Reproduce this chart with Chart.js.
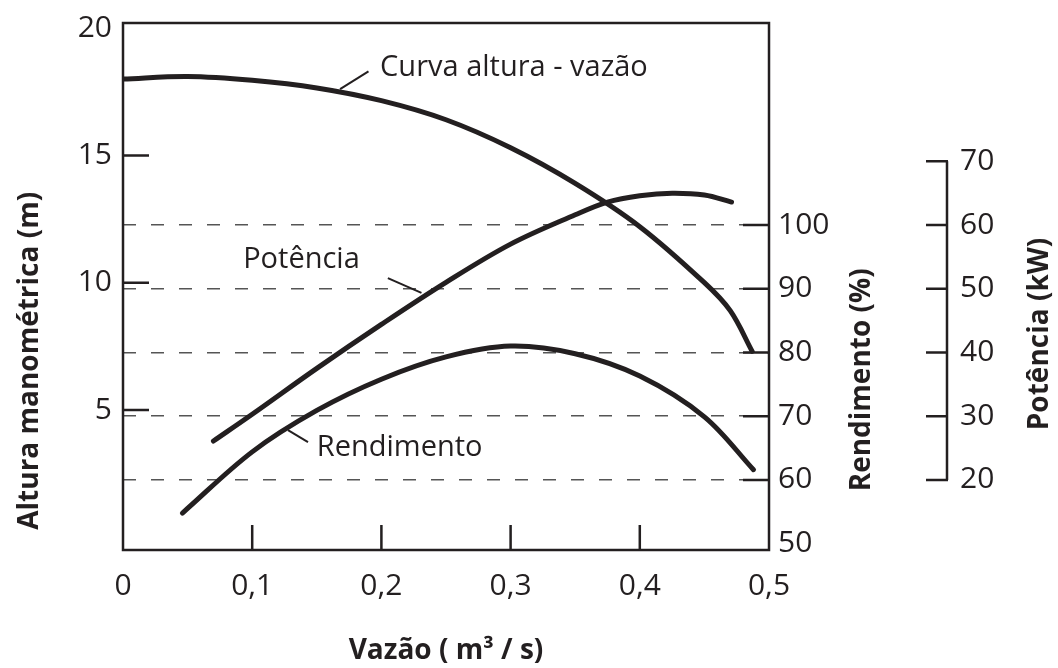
<!DOCTYPE html>
<html>
<head>
<meta charset="utf-8">
<script src="https://cdn.jsdelivr.net/npm/chart.js@4"></script>
<style>
html,body{margin:0;padding:0;background:#fff}
#wrap{width:1058px;height:668px}
</style>
</head>
<body>
<div id="wrap"><canvas id="myChart" width="1058" height="668"></canvas></div>
<script>
var INK = '#231f20'
var FONT = "'Open Sans', sans-serif"

// curva altura - vazão (eixo da esquerda, m)
var alturaVazao = [0, 0.05, 0.1, 0.15, 0.2, 0.25, 0.3, 0.35, 0.4, 0.45, 0.47, 0.487]
var altura = [18.0, 18.1, 17.95, 17.65, 17.15, 16.4, 15.3, 13.9, 12.2, 10.0, 8.9, 7.3]

// rendimento (%)
var rendVazao = [0.046, 0.1, 0.15, 0.2, 0.25, 0.3, 0.35, 0.4, 0.45, 0.488]
var rendimento = [54.8, 64.4, 70.9, 75.8, 79.3, 81.0, 79.8, 76.3, 69.9, 61.6]

// potência (kW)
var potVazao = [0.07, 0.1, 0.15, 0.2, 0.25, 0.3, 0.35, 0.375, 0.4, 0.425, 0.45, 0.471]
var potencia = [26.1, 30.3, 37.5, 44.4, 51.0, 57.0, 61.6, 63.6, 64.6, 65.0, 64.7, 63.6]

var xTicks = [0, 0.1, 0.2, 0.3, 0.4, 0.5]
var alturaTicks = [5, 10, 15, 20]
var rendTicks = [50, 60, 70, 80, 90, 100]
var potTicks = [20, 30, 40, 50, 60, 70]

function pts(xs, ys){
	var out = []
	for(var i=0;i<xs.length;i++){
		out.push({x: xs[i], y: ys[i]})
	}
	return out
}

function fixTicks(list){
	return function(scale){
		scale.ticks = list.map(function(v){ return {value: v} })
	}
}

function fitTo(prop, size){
	return function(s){
		s[prop] = size
		s.paddingTop = 0
		s.paddingBottom = 0
		s.paddingLeft = 0
		s.paddingRight = 0
	}
}

// rótulos sobre as curvas (em unidades dos eixos)
var notes = [
	{text: 'Curva altura - vazão', x: 0.199, y: 18.45, axis: 'y', line: [[0.168, 17.6], [0.19, 18.3]]},
	{text: 'Potência', x: 0.093, y: 10.9, axis: 'y', line: [[0.205, 10.18], [0.231, 9.6]]},
	{text: 'Rendimento', x: 0.150, y: 3.5, axis: 'y', line: [[0.1277, 4.21], [0.1432, 3.74]]}
]

var framePlugin = {
	id: 'frame',
	afterDraw: function(chart){
		var ctx = chart.ctx
		var ca = chart.chartArea
		var sx = chart.scales.x, sy = chart.scales.y, s2 = chart.scales.y2, s3 = chart.scales.y3
		ctx.save()
		ctx.strokeStyle = INK
		ctx.lineWidth = 2.5
		ctx.lineCap = 'butt'
		ctx.strokeRect(ca.left, ca.top, ca.right-ca.left, ca.bottom-ca.top)

		ctx.beginPath()
		xTicks.forEach(function(v){
			if(v > 0 && v < 0.5){
				var px = sx.getPixelForValue(v)
				ctx.moveTo(px, ca.bottom); ctx.lineTo(px, ca.bottom-25)
			}
		})
		alturaTicks.forEach(function(v){
			if(v < 20){
				var py = sy.getPixelForValue(v)
				ctx.moveTo(ca.left, py); ctx.lineTo(ca.left+26, py)
			}
		})
		rendTicks.forEach(function(v){
			if(v > 50){
				var py = s2.getPixelForValue(v)
				ctx.moveTo(ca.right-26, py); ctx.lineTo(ca.right, py)
			}
		})
		// eixo da potência
		var x3 = s3.left
		ctx.moveTo(x3, s3.getPixelForValue(potTicks[0]))
		ctx.lineTo(x3, s3.getPixelForValue(potTicks[potTicks.length-1]))
		potTicks.forEach(function(v){
			var py = s3.getPixelForValue(v)
			ctx.moveTo(x3-21, py); ctx.lineTo(x3+1, py)
		})
		ctx.stroke()

		// títulos verticais
		ctx.fillStyle = INK
		ctx.font = 'bold 28px ' + FONT
		ctx.textAlign = 'center'
		ctx.textBaseline = 'middle'
		var h = ca.bottom - ca.top
		var titles = [
			['Altura manométrica (m)', sy.left + 30, ca.top + 0.641*h],
			['Rendimento (%)', s2.left + 93, ca.top + 0.677*h],
			['Potência (kW)', s3.left + 93, ca.top + 0.59*h]
		]
		titles.forEach(function(t){
			ctx.save()
			ctx.translate(t[1], t[2])
			ctx.rotate(-Math.PI/2)
			ctx.fillText(t[0], 0, 0)
			ctx.restore()
		})

		// anotações
		ctx.font = '29px ' + FONT
		ctx.textAlign = 'left'
		ctx.lineWidth = 2
		notes.forEach(function(n){
			var ys = chart.scales[n.axis]
			ctx.fillText(n.text, sx.getPixelForValue(n.x), ys.getPixelForValue(n.y))
			ctx.beginPath()
			ctx.moveTo(sx.getPixelForValue(n.line[0][0]), ys.getPixelForValue(n.line[0][1]))
			ctx.lineTo(sx.getPixelForValue(n.line[1][0]), ys.getPixelForValue(n.line[1][1]))
			ctx.stroke()
		})
		ctx.restore()
	}
}

var lineStyle = {
	borderColor: INK,
	borderWidth: 5,
	pointRadius: 0,
	fill: false,
	tension: 0.35,
	borderCapStyle: 'round',
	borderJoinStyle: 'round'
}

var mychart = document.getElementById('myChart').getContext('2d')

var chart = new Chart(mychart, {
	type: 'line',
	data: {
		datasets: [
			Object.assign({label: 'Curva altura - vazão', data: pts(alturaVazao, altura), yAxisID: 'y'}, lineStyle),
			Object.assign({label: 'Rendimento', data: pts(rendVazao, rendimento), yAxisID: 'y2'}, lineStyle),
			Object.assign({label: 'Potência', data: pts(potVazao, potencia), yAxisID: 'y3'}, lineStyle)
		]
	},
	options: {
		responsive: false,
		animation: false,
		layout: {padding: {top: 23, left: 0, right: 0, bottom: 0}},
		plugins: {legend: {display: false}, tooltip: {enabled: false}},
		scales: {
			x: {
				type: 'linear', min: 0, max: 0.5,
				afterBuildTicks: fixTicks(xTicks),
				afterFit: fitTo('height', 118),
				grid: {display: false, drawTicks: false},
				border: {display: false},
				ticks: {
					color: INK, font: {family: FONT, size: 30}, padding: 18, maxRotation: 0,
					callback: function(v){ return String(v).replace('.', ',') }
				},
				title: {display: true, text: 'Vazão ( m³ / s)', color: INK,
					font: {family: FONT, size: 28, weight: 'bold'}, padding: {top: 0, bottom: 0}}
			},
			y: {
				position: 'left', min: -0.5, max: 20.2,
				afterBuildTicks: fixTicks(alturaTicks),
				afterFit: fitTo('width', 123),
				grid: {display: false, drawTicks: false},
				border: {display: false},
				ticks: {color: INK, font: {family: FONT, size: 30}, padding: 11}
			},
			y2: {
				position: 'right', min: 49, max: 131.7, weight: 0,
				afterBuildTicks: fixTicks(rendTicks),
				afterFit: fitTo('width', 178),
				grid: {
					drawOnChartArea: true, drawTicks: false, lineWidth: 1.5,
					color: function(c){ return c.tick && c.tick.value > 50 ? '#555555' : 'rgba(0,0,0,0)' }
				},
				border: {display: false, dash: [13, 15]},
				ticks: {color: INK, font: {family: FONT, size: 30}, padding: 9}
			},
			y3: {
				position: 'right', min: 9, max: 91.7, weight: 1,
				afterBuildTicks: fixTicks(potTicks),
				afterFit: fitTo('width', 111),
				grid: {display: false, drawTicks: false},
				border: {display: false},
				ticks: {color: INK, font: {family: FONT, size: 30}, padding: 13}
			}
		}
	},
	plugins: [framePlugin]
})
</script>
</body>
</html>
